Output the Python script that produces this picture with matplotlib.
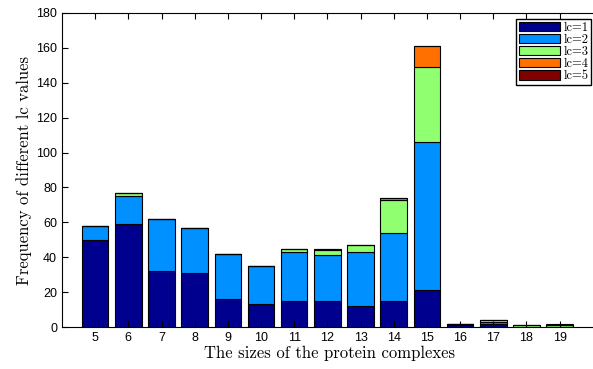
import matplotlib
matplotlib.use('Agg')
import matplotlib.pyplot as plt
import numpy as np

sizes = [5, 6, 7, 8, 9, 10, 11, 12, 13, 14, 15, 16, 17, 18, 19]
lc1 = [50, 59, 32, 31, 16, 13, 15, 15, 12, 15, 21, 1, 2, 0, 0]
lc2 = [8, 16, 30, 26, 26, 22, 28, 26, 31, 39, 85, 1, 1, 0, 0]
lc3 = [0, 2, 0, 0, 0, 0, 2, 3, 4, 19, 43, 0, 1, 1, 1]
lc4 = [0, 0, 0, 0, 0, 0, 0, 1, 0, 1, 12, 0, 0, 0, 0]
lc5 = [0, 0, 0, 0, 0, 0, 0, 0, 0, 0, 0, 0, 0, 0, 1]
labels = ['lc=1', 'lc=2', 'lc=3', 'lc=4', 'lc=5']
colors = ['#00008f', '#0090ff', '#90ff70', '#ff7000', '#800000']

fig = plt.figure(figsize=(5.93, 3.69), dpi=100)
# right edge sits just past the figure, so the right spine is cut off
ax = fig.add_axes([0.1046, 0.1138, 0.9034, 0.851])

bottom = np.zeros(len(sizes))
for vals, lab, col in zip([lc1, lc2, lc3, lc4, lc5], labels, colors):
    ax.bar(sizes, vals, width=0.8, bottom=bottom, color=col,
           edgecolor='black', linewidth=0.8, label=lab)
    bottom += np.array(vals)

ax.set_xlim(4, 20.15)
ax.set_ylim(0, 180)
ax.set_xticks(sizes)
ax.set_yticks(np.arange(0, 181, 20))
ax.tick_params(direction='in', top=True, right=False, labelsize=9, length=4)
for t in ax.get_xticklabels() + ax.get_yticklabels():
    t.set_fontfamily('Liberation Sans')

ax.set_xlabel('The sizes of the protein complexes', fontfamily='cmr10', fontsize=12, labelpad=1)
ax.set_ylabel('Frequency of different lc values', fontfamily='cmr10', fontsize=12, labelpad=3)

leg = ax.legend(loc='upper right', prop={'family': 'cmr10', 'size': 9},
                fancybox=False, edgecolor='black', framealpha=1,
                handlelength=3.3, handleheight=0.75, labelspacing=0.0,
                borderpad=0.2, handletextpad=0.3, borderaxespad=0.5)
leg.get_frame().set_linewidth(1.0)

fig.savefig('out.png', dpi=100)
